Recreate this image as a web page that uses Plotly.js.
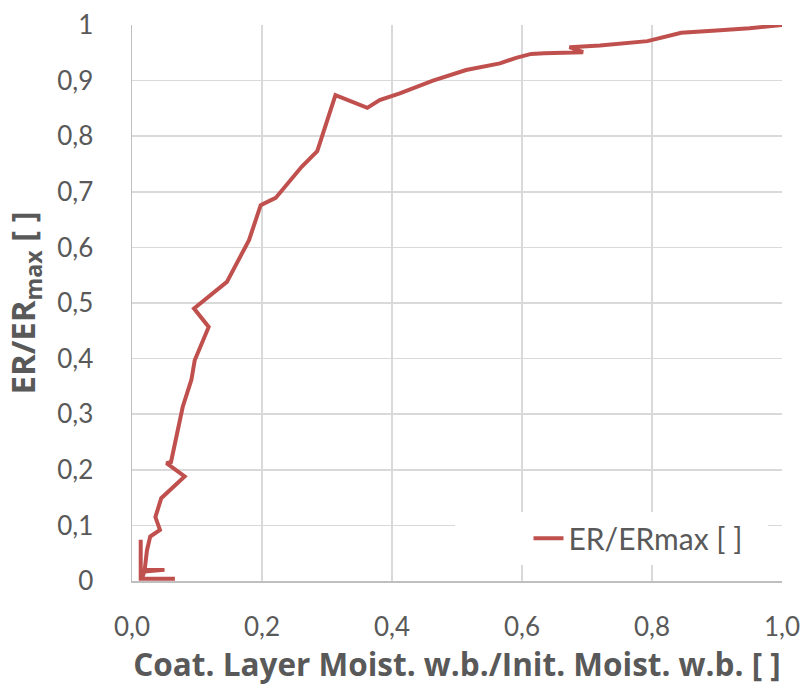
<!DOCTYPE html>
<html>
<head>
<meta charset="utf-8">
<script src="https://cdn.plot.ly/plotly-3.0.1.min.js"></script>
<style>html,body{margin:0;padding:0;background:#fff;}#chart{width:809px;height:688px;}</style>
</head>
<body>
<div id="chart"></div>
<script>
// Coat. layer moisture ratio (x) vs ER/ERmax (y), path order as drawn
const moistureRatio = [1.0, 0.95, 0.899, 0.845, 0.793, 0.72, 0.673, 0.694, 0.634, 0.614, 0.591, 0.566, 0.514, 0.463, 0.412, 0.381, 0.362, 0.313, 0.285, 0.261, 0.221, 0.198, 0.180, 0.146, 0.0954, 0.118, 0.0965, 0.0914, 0.078, 0.060, 0.053, 0.081, 0.045, 0.036, 0.043, 0.028, 0.023, 0.0205, 0.0195, 0.050, 0.019, 0.015, 0.066, 0.0134, 0.0134];
const erRatio =       [1.0, 0.994, 0.990, 0.986, 0.971, 0.963, 0.960, 0.951, 0.949, 0.948, 0.941, 0.931, 0.919, 0.900, 0.877, 0.865, 0.851, 0.874, 0.773, 0.745, 0.689, 0.676, 0.613, 0.538, 0.490, 0.457, 0.397, 0.362, 0.313, 0.214, 0.212, 0.188, 0.149, 0.115, 0.092, 0.080, 0.055, 0.033, 0.020, 0.020, 0.017, 0.004, 0.004, 0.004, 0.074];
const seriesName = 'ER/ERmax [ ]';
const xTitle = 'Coat. Layer Moist. w.b./Init. Moist. w.b. [ ]';
const yTitle = 'ER/ER<sub>max</sub> [ ]';

const FONT = 'Lato, "Open Sans", sans-serif';
const TITLE_FONT = '"Open Sans", Lato, sans-serif';
const GREY = '#595959';

const trace = {
  x: moistureRatio, y: erRatio, type: 'scatter', mode: 'lines', name: seriesName,
  line: {color: '#c0504d', width: 4, shape: 'linear'}
};

const layout = {
  width: 809, height: 688,
  margin: {l: 132, r: 27, t: 25, b: 107, pad: 0},
  paper_bgcolor: '#ffffff', plot_bgcolor: '#ffffff',
  separators: ', ',
  font: {family: FONT, color: GREY, size: 26},
  showlegend: true,
  legend: {x: 0.61, xanchor: 'left', y: 0.077, yanchor: 'middle', bgcolor: 'rgba(0,0,0,0)',
           font: {family: FONT, size: 30, color: GREY}},
  xaxis: {range: [0, 1], dtick: 0.2, tick0: 0, tickformat: '.1f', showgrid: true,
          gridcolor: '#d9d9d9', gridwidth: 1.5, zeroline: false, showline: true,
          linecolor: '#bfbfbf', linewidth: 1.5, ticks: '', ticklabelstandoff: 22,
          tickfont: {family: FONT, size: 26, color: GREY},
          title: {text: xTitle, font: {family: TITLE_FONT, size: 31.5, color: GREY, weight: 'bold'}, standoff: 8},
          fixedrange: true},
  yaxis: {range: [0, 1], dtick: 0.1, tick0: 0, showgrid: true,
          gridcolor: '#d9d9d9', gridwidth: 1.5, zeroline: false, showline: true,
          linecolor: '#bfbfbf', linewidth: 1.5, ticks: '', ticklabelstandoff: 32,
          tickfont: {family: FONT, size: 26, color: GREY},
          title: {text: yTitle, font: {family: TITLE_FONT, size: 33, color: GREY, weight: 'bold'}, standoff: 11},
          fixedrange: true},
  shapes: [{type: 'rect', xref: 'paper', yref: 'paper', x0: 0.497, x1: 0.978, y0: 0.029, y1: 0.124,
            fillcolor: '#ffffff', line: {width: 0}, layer: 'above'}]
};

Plotly.newPlot('chart', [trace], layout, {displayModeBar: false, staticPlot: true});
</script>
</body>
</html>
